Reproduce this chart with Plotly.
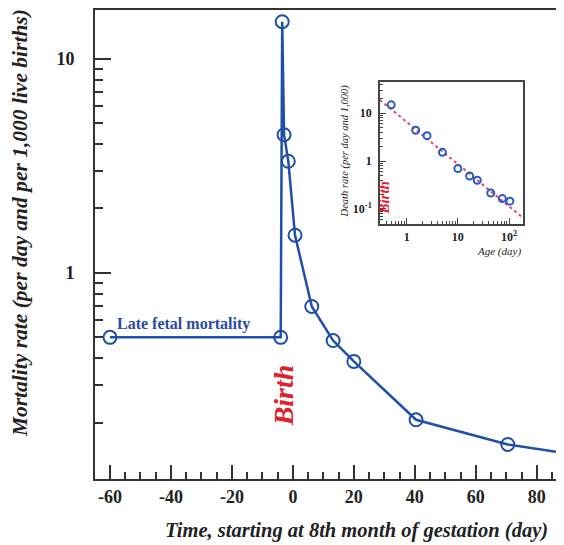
import plotly.graph_objects as go

# ---- data (main chart) ----
day = [-60, -4, -3.5, -2.9, -1.5, 0.7, 6.2, 13.2, 20, 40.4, 70.5, 96]
rate = [0.5, 0.5, 14.9, 4.42, 3.32, 1.50, 0.697, 0.483, 0.386, 0.206, 0.158, 0.139]

x_tickvals = [-60, -40, -20, 0, 20, 40, 60, 80]
x_ticktext = ["-60", "-40", "-20", "0", "20", "40", "60", "80"]
y_tickvals = [1, 10]
y_ticktext = ["1", "10"]

# ---- data (inset) ----
age = [0.5, 1.5, 2.5, 5, 10, 17, 24, 44, 74, 104]
death_rate = [15, 4.4, 3.4, 1.52, 0.70, 0.487, 0.396, 0.215, 0.164, 0.145]
fit_age = [0.3, 190]
fit_rate = [19.0, 0.064]
inset_x_tickvals = [1, 10, 100]
inset_x_ticktext = ["1", "10", "10<sup>2</sup>"]
inset_y_tickvals = [0.1, 1, 10]
inset_y_ticktext = ["10<sup>-1</sup>", "1", "10"]

SERIF = "Liberation Serif"
BLUE = "#1f4fa8"
AXC = "#333333"

main_minor_y = [k * 10 ** e for e in (-1, 0) for k in range(2, 10)]
inset_minor_x = [k * 10 ** e for e in (-1, 0, 1, 2) for k in range(2, 10)]
inset_minor_y = [k * 10 ** e for e in (-2, -1, 0, 1) for k in range(2, 10)]

fig = go.Figure()

fig.add_trace(go.Scatter(
    x=day, y=rate, mode="lines+markers",
    line=dict(color=BLUE, width=2.5),
    marker=dict(symbol="circle-open", size=13, color=BLUE, line=dict(width=2, color=BLUE)),
    xaxis="x", yaxis="y", showlegend=False, cliponaxis=True,
))

fig.add_trace(go.Scatter(
    x=fit_age, y=fit_rate, mode="lines",
    line=dict(color="#e8408c", width=2, dash="dot"),
    xaxis="x2", yaxis="y2", showlegend=False,
))
fig.add_trace(go.Scatter(
    x=age, y=death_rate, mode="markers",
    marker=dict(symbol="circle-open", size=7, color="#2a5cc0", line=dict(width=2, color="#2a5cc0")),
    xaxis="x2", yaxis="y2", showlegend=False,
))

tickfont = dict(family=SERIF, size=18, color="#222", weight="bold")

fig.update_layout(
    width=548, height=537,
    margin=dict(l=87, r=0, t=0, b=66),
    paper_bgcolor="white", plot_bgcolor="white",
    xaxis=dict(
        range=[-64.92, 86.32], domain=[0, 1], anchor="y",
        tickmode="array", tickvals=x_tickvals, ticktext=x_ticktext,
        ticks="inside", ticklen=14, tickwidth=1.5, tickcolor=AXC,
        minor=dict(dtick=5, tick0=0, ticks="inside", ticklen=7, tickwidth=1.5, tickcolor=AXC),
        showline=True, linecolor=AXC, linewidth=2, mirror=True,
        showgrid=False, zeroline=False,
        tickfont=tickfont, ticklabelstandoff=0,
    ),
    yaxis=dict(
        type="log", range=[-0.9628, 1.228], domain=[0, 1], anchor="x",
        tickmode="array", tickvals=y_tickvals, ticktext=y_ticktext,
        ticks="inside", ticklen=16, tickwidth=1.5, tickcolor=AXC,
        minor=dict(tickmode="array", tickvals=main_minor_y, ticks="inside",
                   ticklen=8, tickwidth=1.5, tickcolor=AXC),
        showline=True, linecolor=AXC, linewidth=2, mirror=False,
        showgrid=False, zeroline=False,
        tickfont=tickfont, ticklabelstandoff=15,
    ),
    xaxis2=dict(
        type="log", range=[-0.521, 2.273], domain=[0.6182, 0.9284], anchor="y2",
        tickmode="array", tickvals=inset_x_tickvals, ticktext=inset_x_ticktext,
        ticks="inside", ticklen=6, tickwidth=1, tickcolor="#444",
        minor=dict(tickmode="array", tickvals=inset_minor_x, ticks="inside",
                   ticklen=3, tickwidth=1, tickcolor="#444"),
        showline=True, linecolor="#444", linewidth=1.5, mirror=True,
        showgrid=False, zeroline=False,
        tickfont=dict(family=SERIF, size=12, color="#222", weight="bold"),
        ticklabelstandoff=1,
    ),
    yaxis2=dict(
        type="log", range=[-1.319, 1.66], domain=[0.5435, 0.8471], anchor="x2",
        tickmode="array", tickvals=inset_y_tickvals, ticktext=inset_y_ticktext,
        ticks="inside", ticklen=6, tickwidth=1, tickcolor="#444",
        minor=dict(tickmode="array", tickvals=inset_minor_y, ticks="inside",
                   ticklen=3, tickwidth=1, tickcolor="#444"),
        showline=True, linecolor="#444", linewidth=1.5, mirror=True,
        showgrid=False, zeroline=False,
        tickfont=dict(family=SERIF, size=12, color="#222", weight="bold"),
        ticklabelstandoff=4,
    ),
)

ann = [
    dict(text="Time, starting at 8th month of gestation (day)", x=0.5683, y=-0.1104,
         font=dict(family=SERIF, size=20.5, color="#222", weight="bold", style="italic")),
    dict(text="Mortality rate (per day and per 1,000 live births)", x=-0.1627, y=0.5456,
         textangle=-90,
         font=dict(family=SERIF, size=21.5, color="#222", weight="bold", style="italic")),
    dict(text="Late fetal mortality", x=0.1909, y=0.3312,
         font=dict(family=SERIF, size=16, color="#2a4aa8", weight="bold")),
    dict(text="Birth", x=0.4078, y=0.1783, textangle=-90,
         font=dict(family=SERIF, size=28, color="#e0202a", weight="bold", style="italic")),
    dict(text="Birth", x=0.6269, y=0.60, textangle=-90,
         font=dict(family=SERIF, size=15, color="#e0202a", weight="bold", style="italic")),
    dict(text="Death rate (per day and 1,000)", x=0.5423, y=0.6985, textangle=-90,
         font=dict(family=SERIF, size=10.5, color="#222", style="italic")),
    dict(text="Age (day)", x=0.9284, y=0.486, xanchor="right",
         font=dict(family=SERIF, size=11, color="#222", style="italic")),
]
for a in ann:
    base = dict(xref="paper", yref="paper", showarrow=False,
                xanchor=a.pop("xanchor", "center"), yanchor="middle")
    base.update(a)
    fig.add_annotation(**base)

fig.write_html("out.html")
